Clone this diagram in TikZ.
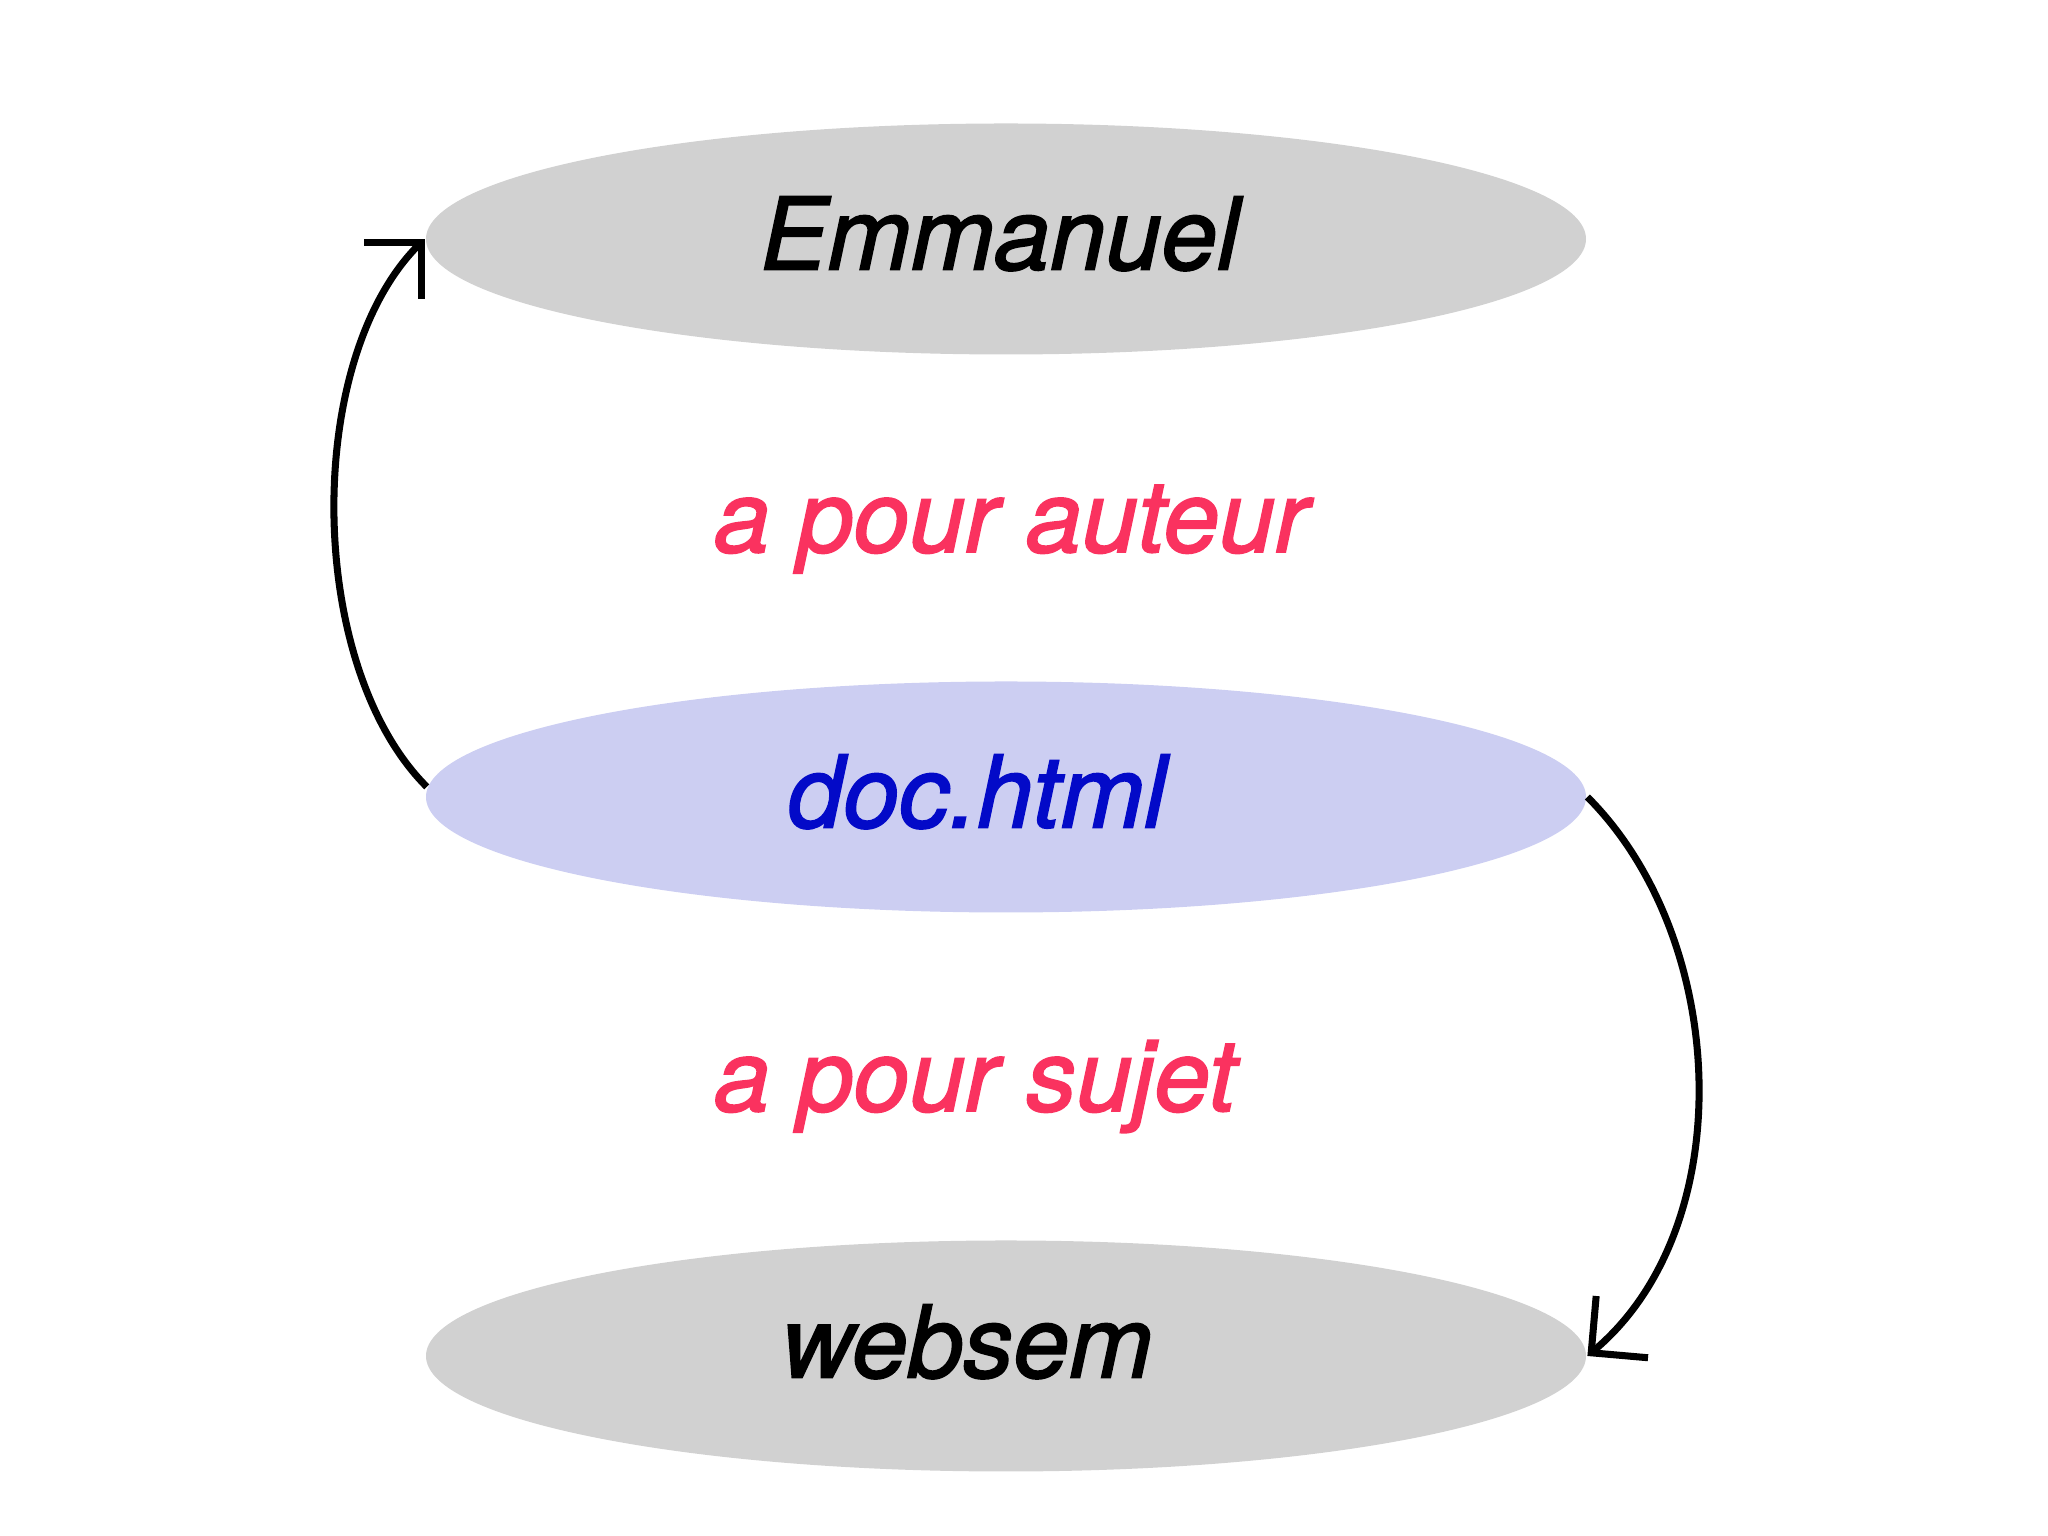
\documentclass[tikz,border=0pt]{standalone}
\usepackage{fontspec}
\setmainfont{TeX Gyre Heros}[ItalicFeatures={FakeBold=1.8}]
\usepackage{xcolor}
\usepackage{tikz}
\usetikzlibrary{shapes.geometric, arrows.meta, positioning}

\definecolor{nodegray}{RGB}{209,209,209}
\definecolor{docfill}{RGB}{204,206,242}
\definecolor{docblue}{RGB}{3,10,200}
\definecolor{proprose}{RGB}{250,50,95}

\begin{document}
\begin{tikzpicture}[thick,
                    main node/.style={ellipse,minimum width=11.6cm,minimum height=2.31cm,inner sep=0pt,
                                      text depth=0.12cm,fill=nodegray,
                                      font=\fontsize{28.5}{34}\selectfont\itshape},
                    prop node/.style={anchor=base west,inner sep=0pt,text=proprose,
                                      font=\fontsize{28.5}{34}\selectfont\itshape},
                    arc/.style={line width=2pt,-{Straight Barb[angle=90:0.57cm]}}]
  \useasboundingbox (0,0) rectangle (20.48,15.36);

  \node[main node] (1) at (10.06,12.97) {Emmanuel\kern0.12cm};
  \node[main node,fill=docfill,text=docblue] (2) at (10.06,7.39) {doc.html\kern0.58cm};
  \node[main node,text depth=0.3cm] (3) at (10.06,1.80) {websem\kern0.78cm};

  \node[prop node] (P1) at (7.13,9.84) {a pour auteur};
  \node[prop node] (P2) at (7.13,4.25) {a pour sujet};

  \draw[arc] (2.179) to[out=135,in=225,looseness=0.8] (1.west);
  \draw[arc] (2.east) to[out=-45,in=40,looseness=0.92] (3.east);
\end{tikzpicture}
\end{document}
